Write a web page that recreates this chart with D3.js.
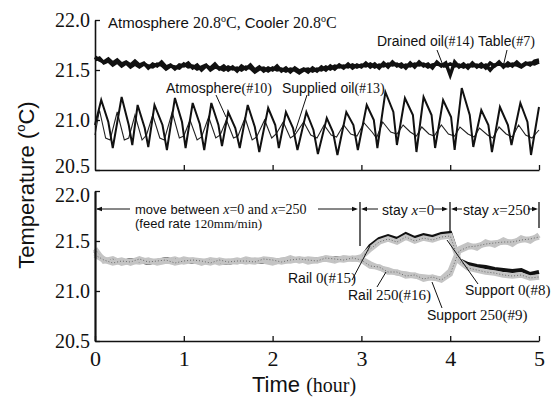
<!DOCTYPE html>
<html>
<head>
<meta charset="utf-8">
<script src="https://cdn.jsdelivr.net/npm/d3@7"></script>
<style>
  body { margin: 0; background: #fff; }
  svg { display: block; }
</style>
</head>
<body>
<div id="chart"></div>
<script>
// x ticks (hour) and y ticks (deg C)
var hours = [0, 1, 2, 3, 4, 5];
var tempTicks = [20.5, 21.0, 21.5, 22.0];

// top panel, sampled every 0.05 h
var drainedOil = [
  21.63, 21.60, 21.58, 21.61, 21.57, 21.60, 21.56, 21.58, 21.55, 21.59,
  21.55, 21.57, 21.52, 21.56, 21.54, 21.58, 21.53, 21.55, 21.51, 21.55,
  21.54, 21.57, 21.52, 21.55, 21.50, 21.54, 21.52, 21.56, 21.51, 21.54,
  21.50, 21.53, 21.49, 21.54, 21.51, 21.55, 21.50, 21.53, 21.49, 21.52,
  21.50, 21.54, 21.49, 21.52, 21.48, 21.52, 21.49, 21.51, 21.48, 21.52,
  21.49, 21.53, 21.50, 21.54, 21.51, 21.55, 21.52, 21.56, 21.52, 21.55,
  21.53, 21.57, 21.53, 21.56, 21.52, 21.57, 21.53, 21.58, 21.54, 21.56,
  21.52, 21.57, 21.53, 21.58, 21.54, 21.56, 21.52, 21.58, 21.54, 21.57,
  21.45, 21.58, 21.53, 21.56, 21.52, 21.57, 21.53, 21.56, 21.52, 21.57,
  21.54, 21.58, 21.53, 21.57, 21.54, 21.58, 21.54, 21.57, 21.55, 21.59,
  21.60
];
var table = [
  21.60, 21.62, 21.57, 21.59, 21.55, 21.58, 21.54, 21.57, 21.53, 21.56,
  21.53, 21.56, 21.54, 21.53, 21.56, 21.55, 21.51, 21.54, 21.53, 21.52,
  21.56, 21.53, 21.54, 21.51, 21.53, 21.55, 21.50, 21.53, 21.52, 21.50,
  21.53, 21.51, 21.52, 21.50, 21.53, 21.52, 21.48, 21.51, 21.52, 21.49,
  21.52, 21.50, 21.51, 21.49, 21.51, 21.50, 21.47, 21.50, 21.51, 21.49,
  21.51, 21.50, 21.53, 21.51, 21.54, 21.53, 21.54, 21.53, 21.55, 21.53,
  21.55, 21.54, 21.56, 21.53, 21.55, 21.54, 21.56, 21.55, 21.56, 21.53,
  21.55, 21.54, 21.56, 21.55, 21.56, 21.53, 21.55, 21.56, 21.55, 21.54,
  21.56, 21.54, 21.55, 21.53, 21.55, 21.54, 21.55, 21.53, 21.55, 21.50,
  21.55, 21.56, 21.55, 21.54, 21.56, 21.55, 21.53, 21.56, 21.57, 21.56,
  21.58
];

// sawtooth curves, read as turning points
var suppliedTime = [0.00, 0.07, 0.15, 0.20, 0.30, 0.38, 0.42, 0.48, 0.56, 0.60, 0.67, 0.76, 0.81, 0.90, 0.98, 1.02, 1.10, 1.18, 1.23, 1.31, 1.39, 1.43, 1.50, 1.58, 1.63, 1.72, 1.80, 1.85, 1.95, 2.03, 2.07, 2.15, 2.23, 2.28, 2.38, 2.46, 2.51, 2.61, 2.68, 2.73, 2.83, 2.91, 2.96, 3.06, 3.14, 3.18, 3.27, 3.36, 3.40, 3.49, 3.58, 3.62, 3.70, 3.79, 3.83, 3.92, 4.01, 4.05, 4.13, 4.22, 4.26, 4.35, 4.43, 4.47, 4.56, 4.65, 4.69, 4.79, 4.87, 4.91, 5.00];
var suppliedOil  = [20.95, 21.20, 20.98, 20.72, 21.23, 20.95, 20.75, 21.15, 20.92, 20.73, 21.15, 20.95, 20.70, 21.22, 20.98, 20.72, 21.17, 20.96, 20.70, 21.17, 20.95, 20.74, 21.08, 20.92, 20.72, 21.15, 20.93, 20.68, 21.12, 20.95, 20.72, 21.08, 20.92, 20.70, 21.08, 20.90, 20.66, 21.02, 20.88, 20.65, 21.08, 20.95, 20.70, 21.15, 21.00, 20.72, 21.28, 21.08, 20.75, 21.22, 21.05, 20.68, 21.23, 21.05, 20.72, 21.20, 21.03, 20.70, 21.32, 21.05, 20.73, 21.10, 20.95, 20.68, 21.13, 20.95, 20.75, 21.17, 20.98, 20.65, 21.13];
var atmosTime = [0.00, 0.05, 0.12, 0.17, 0.25, 0.33, 0.38, 0.45, 0.53, 0.58, 0.65, 0.73, 0.78, 0.87, 0.95, 1.00, 1.07, 1.15, 1.20, 1.28, 1.36, 1.41, 1.48, 1.56, 1.61, 1.69, 1.77, 1.82, 1.91, 1.99, 2.04, 2.12, 2.20, 2.25, 2.35, 2.43, 2.50, 2.58, 2.66, 2.72, 2.80, 2.88, 2.95, 3.03, 3.12, 3.17, 3.24, 3.33, 3.40, 3.47, 3.55, 3.62, 3.68, 3.76, 3.82, 3.90, 3.98, 4.05, 4.11, 4.20, 4.27, 4.33, 4.42, 4.48, 4.55, 4.63, 4.70, 4.77, 4.85, 4.92, 5.00];
var atmosphere = [20.85, 21.10, 20.82, 20.80, 21.08, 20.80, 20.82, 21.05, 20.80, 20.85, 21.05, 20.82, 20.80, 21.08, 20.82, 20.84, 21.00, 20.80, 20.83, 21.03, 20.82, 20.85, 21.00, 20.82, 20.84, 21.02, 20.80, 20.83, 21.00, 20.82, 20.86, 20.98, 20.82, 20.85, 20.98, 20.85, 20.82, 20.95, 20.85, 20.83, 20.95, 20.86, 20.84, 20.97, 20.88, 20.82, 20.98, 20.88, 20.86, 20.95, 20.88, 20.84, 20.93, 20.86, 20.84, 20.95, 20.86, 20.84, 20.93, 20.86, 20.83, 20.92, 20.85, 20.82, 20.93, 20.86, 20.83, 20.95, 20.85, 20.82, 20.90];

// bottom panel, sampled every 0.1 h
var rail0 = [
  21.40, 21.31, 21.30, 21.29, 21.31, 21.30, 21.28, 21.30, 21.32, 21.30,
  21.31, 21.29, 21.30, 21.30, 21.29, 21.28, 21.30, 21.31, 21.30, 21.29,
  21.30, 21.31, 21.32, 21.31, 21.30, 21.32, 21.31, 21.33, 21.32, 21.33,
  21.33, 21.45, 21.52, 21.55, 21.52, 21.57, 21.53, 21.56, 21.54, 21.57,
  21.58, 21.31, 21.27, 21.25, 21.24, 21.22, 21.21, 21.20, 21.21, 21.17,
  21.19
];
var support0 = [
  21.38, 21.32, 21.29, 21.31, 21.28, 21.31, 21.30, 21.29, 21.30, 21.32,
  21.29, 21.31, 21.28, 21.31, 21.30, 21.29, 21.31, 21.29, 21.31, 21.30,
  21.28, 21.31, 21.30, 21.32, 21.29, 21.31, 21.33, 21.31, 21.33, 21.32,
  21.34, 21.42, 21.49, 21.52, 21.49, 21.54, 21.50, 21.53, 21.51, 21.54,
  21.55, 21.30, 21.23, 21.21, 21.19, 21.18, 21.16, 21.15, 21.16, 21.13,
  21.14
];
var rail250 = [
  21.42, 21.30, 21.32, 21.28, 21.30, 21.29, 21.31, 21.28, 21.30, 21.29,
  21.32, 21.30, 21.29, 21.31, 21.28, 21.30, 21.29, 21.32, 21.30, 21.31,
  21.29, 21.30, 21.33, 21.30, 21.32, 21.31, 21.32, 21.30, 21.33, 21.32,
  21.32, 21.27, 21.23, 21.21, 21.18, 21.17, 21.15, 21.14, 21.13, 21.12,
  21.20, 21.42, 21.46, 21.43, 21.49, 21.46, 21.51, 21.47, 21.53, 21.50,
  21.56
];
var support250 = [
  21.36, 21.31, 21.28, 21.30, 21.29, 21.32, 21.29, 21.30, 21.31, 21.28,
  21.30, 21.31, 21.30, 21.28, 21.31, 21.29, 21.30, 21.30, 21.29, 21.32,
  21.31, 21.29, 21.31, 21.32, 21.31, 21.30, 21.33, 21.32, 21.31, 21.33,
  21.31, 21.25, 21.24, 21.19, 21.19, 21.15, 21.16, 21.12, 21.14, 21.11,
  21.17, 21.40, 21.44, 21.45, 21.47, 21.48, 21.49, 21.49, 21.51, 21.52,
  21.54
];

var width = 557;
var height = 403;
var sans = "'Liberation Sans', Arial, sans-serif";
var serif = "'Liberation Serif', 'Times New Roman', serif";

var svg = d3.select('#chart')
            .append('svg')
            .attr('width', width)
            .attr('height', height);

var x = d3.scaleLinear().domain([0, 5]).range([95, 539]);
var yTop = d3.scaleLinear().domain([20.5, 22]).range([170, 20]);
var yBot = d3.scaleLinear().domain([20.5, 22]).range([341, 191]);

var fineTime = d3.range(0, 101).map(function (i) { return i * 0.05; });
var coarseTime = d3.range(0, 51).map(function (i) { return i * 0.1; });

function zip(ts, vs) {
    return ts.map(function (t, i) { return [t, vs[i]]; });
}

var lineTop = d3.line().x(function (d) { return x(d[0]); }).y(function (d) { return yTop(d[1]); });
var lineBot = d3.line().x(function (d) { return x(d[0]); }).y(function (d) { return yBot(d[1]); });

// ---- top panel curves
svg.append('path').datum(zip(fineTime, table))
    .attr('d', lineTop).attr('fill', 'none')
    .attr('stroke', '#111').attr('stroke-width', 3.5);
svg.append('path').datum(zip(fineTime, drainedOil))
    .attr('d', lineTop).attr('fill', 'none')
    .attr('stroke', '#111').attr('stroke-width', 3.5);
svg.append('path').datum(zip(atmosTime, atmosphere))
    .attr('d', lineTop).attr('fill', 'none')
    .attr('stroke', '#222').attr('stroke-width', 1.1);
svg.append('path').datum(zip(suppliedTime, suppliedOil))
    .attr('d', lineTop).attr('fill', 'none')
    .attr('stroke', '#111').attr('stroke-width', 2);

// ---- bottom panel curves (black rail 0 under the grey bands)
svg.append('path').datum(zip(coarseTime, rail0))
    .attr('d', lineBot).attr('fill', 'none')
    .attr('stroke', '#111').attr('stroke-width', 4);

[support0, rail250, support250].forEach(function (s) {
    var g = svg.append('g');
    g.append('path').datum(zip(coarseTime, s))
        .attr('d', lineBot).attr('fill', 'none')
        .attr('stroke', '#c4c4c4').attr('stroke-width', 5.5);
    g.append('path').datum(zip(coarseTime, s))
        .attr('d', lineBot).attr('fill', 'none')
        .attr('stroke', '#555').attr('stroke-width', 0.8)
        .attr('stroke-dasharray', '1 2');
});

// ---- axes
function styleAxis(g, size) {
    g.select('.domain').attr('stroke', '#111').attr('stroke-width', 1.6);
    g.selectAll('.tick line').attr('stroke', '#111').attr('stroke-width', 1.3);
    g.selectAll('.tick text')
        .attr('fill', '#111')
        .style('font-family', serif)
        .style('font-size', size + 'px');
}

svg.append('g')
    .attr('transform', 'translate(0,170)')
    .call(d3.axisBottom(x).tickValues(hours.slice(1)).tickSize(-5).tickSizeOuter(0).tickFormat(''))
    .call(function (g) { styleAxis(g, 20); });

svg.append('g')
    .attr('transform', 'translate(0,341)')
    .call(d3.axisBottom(x).tickValues(hours).tickSize(-5).tickSizeOuter(0).tickPadding(9).tickFormat(d3.format('d')))
    .call(function (g) { styleAxis(g, 22); });

svg.append('g')
    .attr('transform', 'translate(95,0)')
    .call(d3.axisLeft(yTop).tickValues(tempTicks).tickSize(-5).tickSizeOuter(0).tickPadding(5).tickFormat(d3.format('.1f')))
    .call(function (g) {
        styleAxis(g, 20);
        g.selectAll('.tick text').filter(function (d) { return d === 20.5; }).attr('dy', '0.12em');
    });

svg.append('g')
    .attr('transform', 'translate(95,0)')
    .call(d3.axisLeft(yBot).tickValues(tempTicks).tickSize(-5).tickSizeOuter(0).tickPadding(5).tickFormat(d3.format('.1f')))
    .call(function (g) {
        styleAxis(g, 20);
        g.select('.domain').attr('stroke-width', 2.2);
        g.selectAll('.tick text').filter(function (d) { return d === 22; }).attr('dy', '0.5em');
    });

// ---- text helper: parts are [text, family, size, extra]
function label(xp, yp, parts, anchor) {
    var t = svg.append('text')
        .attr('x', xp).attr('y', yp)
        .attr('fill', '#111')
        .style('text-anchor', anchor || 'start');
    parts.forEach(function (p) {
        var s = t.append('tspan')
            .style('font-family', p[1])
            .style('font-size', p[2] + 'px')
            .text(p[0]);
        if (p[3] === 'sup') s.attr('dy', -6);
        if (p[3] === 'down') s.attr('dy', 6);
        if (p[3] === 'i') s.style('font-style', 'italic');
    });
    return t;
}

function seg(x1, y1, x2, y2, w) {
    svg.append('line')
        .attr('x1', x1).attr('y1', y1).attr('x2', x2).attr('y2', y2)
        .attr('stroke', '#111').attr('stroke-width', w || 1);
}

function arrowHead(xp, yp, dir) {
    svg.append('path')
        .attr('d', 'M' + xp + ',' + yp + 'l' + (-dir * 6) + ',-2.2v4.4z')
        .attr('fill', '#111');
}

// top panel texts
label(108, 28, [['Atmosphere ', sans, 15], ['20.8', serif, 16], ['o', serif, 10, 'sup'], ['C,  ', serif, 16, 'down'],
                ['Cooler ', sans, 15], ['20.8', serif, 16], ['o', serif, 10, 'sup'], ['C', serif, 16, 'down']]);
label(377, 46, [['Drained oil', sans, 14], ['(#14)', serif, 14]]);
label(478, 46, [['Table', sans, 14], ['(#7)', serif, 14]]);
label(166, 93, [['Atmosphere', sans, 14], ['(#10)', serif, 14]]);
label(282, 93, [['Supplied oil', sans, 14], ['(#13)', serif, 14]]);
seg(437, 50, 444, 68);
seg(507, 50, 503, 67);
seg(216, 95, 226, 117);
seg(307, 95, 295, 132);

// bottom panel phase markers
label(135, 214, [['move between ', sans, 13], ['x', serif, 14, 'i'], ['=0 and ', serif, 14], ['x', serif, 14, 'i'], ['=250', serif, 14]]);
label(135, 228, [['(feed rate  ', sans, 13], ['120mm/min)', serif, 13]]);
seg(97, 209, 130, 209); arrowHead(96, 209, -1);
seg(318, 209, 356, 209); arrowHead(358, 209, 1);
seg(360, 202, 360, 246, 1.3);
seg(450, 202, 450, 233, 1.3);
seg(539, 202, 539, 228, 1.3);
label(382, 215, [['stay ', sans, 14], ['x', serif, 15, 'i'], ['=0', serif, 15]]);
seg(363, 209, 378, 209); arrowHead(361, 209, -1);
seg(434, 209, 446, 209); arrowHead(448, 209, 1);
label(463, 215, [['stay ', sans, 14], ['x', serif, 15, 'i'], ['=250', serif, 15]]);
seg(453, 209, 462, 209); arrowHead(451, 209, -1);
seg(528, 209, 536, 209); arrowHead(538, 209, 1);

// bottom panel curve labels
label(288, 283, [['Rail ', sans, 14], ['0(#15)', serif, 15]]);
label(348, 300, [['Rail ', sans, 14], ['250(#16)', serif, 15]]);
label(465, 295, [['Support ', sans, 14], ['0(#8)', serif, 15]]);
label(427, 320, [['Support ', sans, 14], ['250(#9)', serif, 15]]);
seg(352, 280, 370, 246);
seg(377, 287, 386, 272);
seg(478, 284, 447, 240);
seg(442, 308, 432, 282);

// axis titles
svg.append('text')
    .attr('transform', 'translate(34,185) rotate(-90)')
    .attr('fill', '#111')
    .style('text-anchor', 'middle')
    .call(function (t) {
        t.append('tspan').style('font-family', sans).style('font-size', '22px').text('Temperature (');
        t.append('tspan').style('font-family', sans).style('font-size', '13px').attr('dy', -9).text('o');
        t.append('tspan').style('font-family', sans).style('font-size', '22px').attr('dy', 9).text('C)');
    });

label(252, 392, [['Time  ', sans, 22], ['(hour)', serif, 20]]);
</script>
</body>
</html>
